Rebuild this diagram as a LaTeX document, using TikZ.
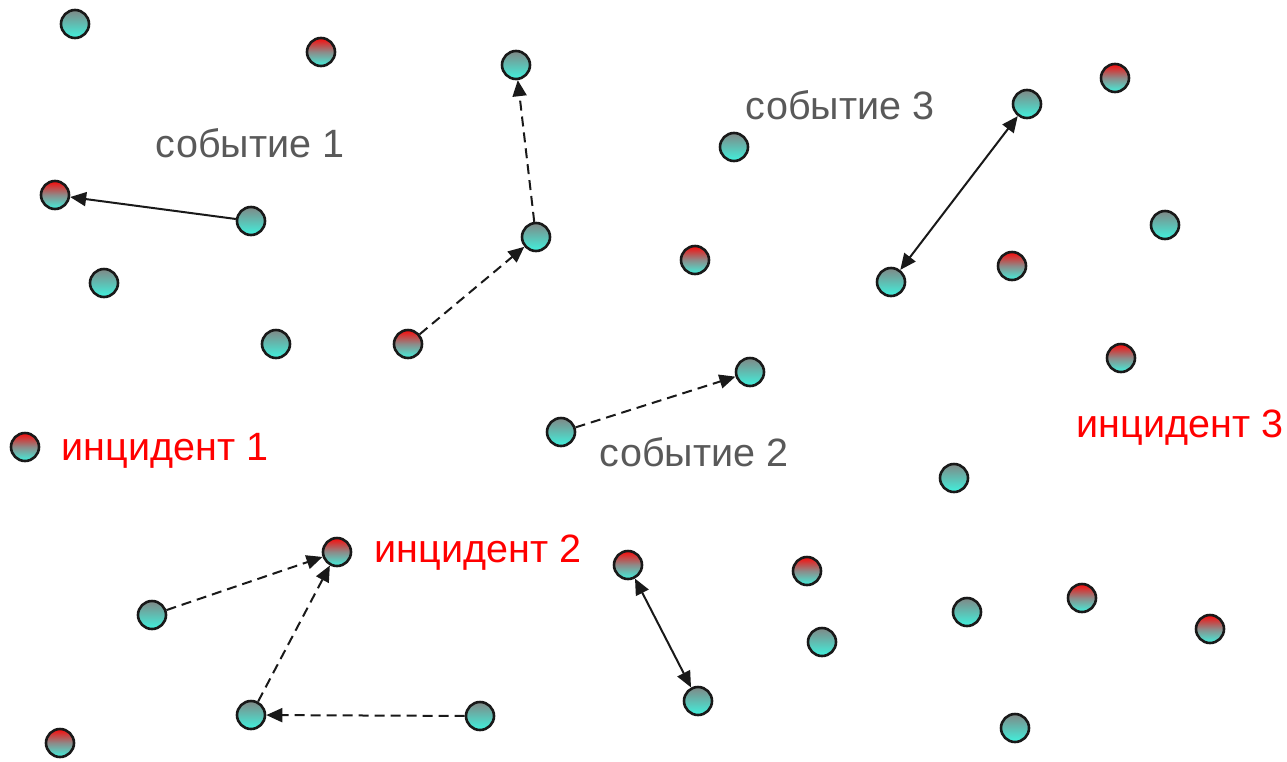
\documentclass[tikz,border=0pt]{standalone}
\usepackage{fontspec}
\setmainfont{Liberation Sans}
\usetikzlibrary{arrows.meta}
\definecolor{tealtop}{RGB}{128,136,134}
\definecolor{tealbot}{RGB}{64,242,222}
\definecolor{redtop}{RGB}{250,10,10}
\definecolor{midgray}{RGB}{140,140,138}
\definecolor{evgray}{RGB}{89,89,89}
\definecolor{incred}{RGB}{255,0,0}
\tikzset{
  tn/.style={circle, draw=black!90, line width=2.6pt, inner sep=0pt, minimum size=28pt,
    top color=tealtop, bottom color=tealbot},
  rn/.style={circle, draw=black!90, line width=2.6pt, inner sep=0pt, minimum size=28pt,
    top color=redtop, bottom color=tealbot, middle color=midgray},
  link/.style={line width=2pt, black!90, -{Triangle[length=16pt,width=14pt]}},
  blink/.style={line width=2pt, black!90, {Triangle[length=16pt,width=14pt]}-{Triangle[length=16pt,width=14pt]}},
  dlink/.style={link, dash pattern=on 10pt off 6pt},
  evt/.style={text=evgray, font=\fontsize{39.5}{42}\selectfont, inner sep=0pt},
  inc/.style={text=incred, font=\fontsize{39.5}{42}\selectfont, inner sep=0pt}
}
\begin{document}
\begin{tikzpicture}[x=1pt,y=-1pt]
\useasboundingbox (0,0) rectangle (1287,761);
\node[tn] (n1) at (75,24) {};
\node[rn] (n2) at (321,52) {};
\node[tn] (n3) at (516,65) {};
\node[rn] (n4) at (1115,78) {};
\node[tn] (n5) at (1027,104) {};
\node[tn] (n6) at (734,147) {};
\node[rn] (n7) at (55,195) {};
\node[tn] (n8) at (251,221) {};
\node[tn] (n9) at (1165,225) {};
\node[tn] (n10) at (536,237) {};
\node[rn] (n11) at (695,260) {};
\node[rn] (n12) at (1012,266) {};
\node[tn] (n13) at (104,283) {};
\node[tn] (n14) at (891,282) {};
\node[tn] (n15) at (276,344) {};
\node[rn] (n16) at (408,344) {};
\node[rn] (n17) at (1121,358) {};
\node[tn] (n18) at (750,372) {};
\node[tn] (n19) at (561,432) {};
\node[rn] (n20) at (25,447) {};
\node[tn] (n21) at (954,478) {};
\node[rn] (n22) at (337,552) {};
\node[rn] (n23) at (628,565) {};
\node[rn] (n24) at (807,571) {};
\node[rn] (n25) at (1082,598) {};
\node[tn] (n26) at (152,615) {};
\node[tn] (n27) at (967,612) {};
\node[rn] (n28) at (1210,629) {};
\node[tn] (n29) at (822,642) {};
\node[tn] (n30) at (698,701) {};
\node[tn] (n31) at (251,715) {};
\node[tn] (n32) at (480,716) {};
\node[tn] (n33) at (1015,728) {};
\node[rn] (n34) at (60,743) {};

\node[evt] (e1) at (250,143) {событие 1};
\node[evt] (e3) at (840,105) {событие 3};
\node[evt] (e2) at (694,452) {событие 2};
\node[inc] (i1) at (165,451) {инцидент 1};
\node[inc] (i2) at (478,553) {инцидент 2};
\node[inc] (i3) at (1180,428) {инцидент 3};

\draw[link] (n8) -- (n7);
\draw[dlink] (n16) -- (n10);
\draw[dlink] (n10) -- (n3);
\draw[dlink] (n19) -- (n18);
\draw[blink] (n5) -- (n14);
\draw[dlink] (n26) -- (n22);
\draw[dlink] (n31) -- (n22);
\draw[dlink] (n32) -- (n31);
\draw[blink] (n23) -- (n30);
\end{tikzpicture}
\end{document}
